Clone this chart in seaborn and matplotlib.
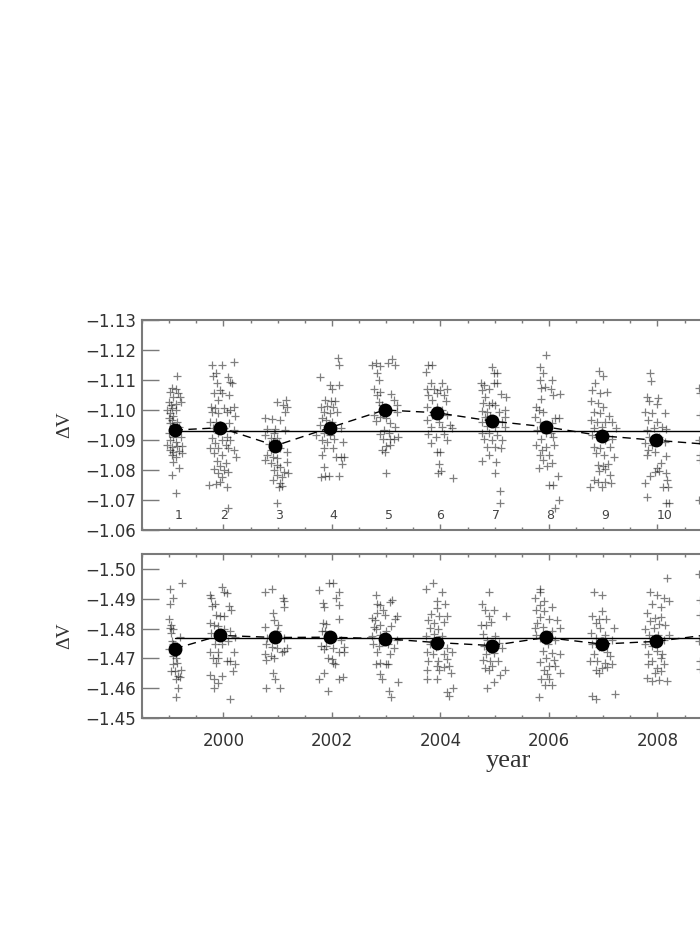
import matplotlib
matplotlib.use("Agg")
import matplotlib.pyplot as plt
import seaborn as sns
import pandas as pd
from matplotlib.ticker import MultipleLocator, FixedLocator

# ---------------- data ----------------
# Upper panel: individual measurements (year, dV) per observing season
top_c1 = [(1999.15,-1.1113),(1999.05,-1.1072),(1999.12,-1.1069),(1999.01,-1.1061),(1999.16,-1.1056),(1999.08,-1.1044),(1999.20,-1.1042),(1998.99,-1.1028),(1999.22,-1.1028),(1999.04,-1.1017),(1999.13,-1.1019),(1999.05,-1.1006),(1998.96,-1.1000),(1999.12,-1.1000),(1999.02,-1.0989),(1999.08,-1.0980),(1998.99,-1.0972),(1999.05,-1.0967),(1999.15,-1.0961),(1999.01,-1.0956),(1999.08,-1.0947),(1999.18,-1.0942),(1998.99,-1.0922),(1999.08,-1.0911),(1999.21,-1.0911),(1999.02,-1.0900),(1999.12,-1.0894),(1998.97,-1.0883),(1999.05,-1.0878),(1999.15,-1.0880),(1999.24,-1.0880),(1999.01,-1.0867),(1999.08,-1.0861),(1999.18,-1.0864),(1999.24,-1.0856),(1999.05,-1.0850),(1999.13,-1.0844),(1999.08,-1.0828),(1999.18,-1.0806),(1999.05,-1.0783),(1999.12,-1.0722)]
top_c2 = [(1999.79,-1.1150),(1999.98,-1.1150),(2000.20,-1.1161),(1999.87,-1.1122),(1999.81,-1.1113),(2000.08,-1.1111),(2000.12,-1.1094),(1999.88,-1.1089),(2000.16,-1.1089),(1999.94,-1.1067),(1999.98,-1.1058),(1999.83,-1.1056),(2000.10,-1.1050),(1999.91,-1.1033),(1999.77,-1.1011),(1999.85,-1.1006),(2000.01,-1.1006),(2000.13,-1.1000),(2000.20,-1.1011),(1999.79,-1.0994),(1999.91,-1.0989),(2000.07,-1.0994),(2000.22,-1.0980),(1999.75,-1.0961),(1999.87,-1.0961),(1999.94,-1.0950),(2000.10,-1.0958),(1999.81,-1.0939),(2000.01,-1.0939),(2000.19,-1.0933),(1999.90,-1.0922),(2000.06,-1.0911),(1999.79,-1.0906),(1999.98,-1.0900),(2000.13,-1.0900),(1999.85,-1.0889),(2000.04,-1.0883),(1999.76,-1.0872),(1999.91,-1.0872),(2000.08,-1.0872),(2000.19,-1.0867),(1999.83,-1.0856),(1999.98,-1.0850),(2000.24,-1.0842),(1999.88,-1.0831),(2000.04,-1.0824),(1999.94,-1.0813),(1999.82,-1.0802),(2000.01,-1.0800),(1999.91,-1.0791),(2000.08,-1.0794),(1999.98,-1.0778),(1999.93,-1.0761),(1999.73,-1.0750),(1999.87,-1.0753),(2000.07,-1.0744),(2000.08,-1.0672)]
top_c3 = [(2001.16,-1.1033),(2000.99,-1.1028),(2001.10,-1.1017),(2001.17,-1.1011),(2001.14,-1.0994),(2000.76,-1.0972),(2000.90,-1.0969),(2001.04,-1.0967),(2000.80,-1.0936),(2000.96,-1.0936),(2001.14,-1.0933),(2000.93,-1.0922),(2000.77,-1.0917),(2000.87,-1.0906),(2000.99,-1.0906),(2000.92,-1.0894),(2000.84,-1.0887),(2001.02,-1.0889),(2000.94,-1.0878),(2000.88,-1.0867),(2001.05,-1.0872),(2001.17,-1.0861),(2000.80,-1.0850),(2000.92,-1.0844),(2000.99,-1.0839),(2000.77,-1.0833),(2000.88,-1.0822),(2000.98,-1.0817),(2001.05,-1.0811),(2000.93,-1.0800),(2001.17,-1.0828),(2001.11,-1.0794),(2001.20,-1.0791),(2000.99,-1.0783),(2001.08,-1.0776),(2000.92,-1.0767),(2001.05,-1.0756),(2001.02,-1.0744),(2001.08,-1.0747),(2000.99,-1.0689)]
top_c4 = [(2002.11,-1.1172),(2002.13,-1.1150),(2001.78,-1.1111),(2001.96,-1.1083),(2002.00,-1.1069),(2002.13,-1.1083),(2001.88,-1.1033),(2001.98,-1.1031),(2002.05,-1.1031),(2001.80,-1.1011),(2001.91,-1.1013),(2002.02,-1.1011),(2001.85,-1.0994),(2001.96,-1.0989),(2002.10,-1.0994),(2001.82,-1.0972),(2001.90,-1.0967),(2002.00,-1.0961),(2001.79,-1.0950),(2002.16,-1.0939),(2001.71,-1.0917),(2001.86,-1.0922),(2001.97,-1.0917),(2001.82,-1.0900),(2001.91,-1.0894),(2002.03,-1.0902),(2002.21,-1.0894),(2001.85,-1.0872),(2002.02,-1.0872),(2001.82,-1.0850),(2002.08,-1.0842),(2002.17,-1.0842),(2002.22,-1.0842),(2002.19,-1.0820),(2001.86,-1.0811),(2001.80,-1.0778),(2001.88,-1.0780),(2001.94,-1.0780),(2002.14,-1.0780)]
top_c5 = [(2002.74,-1.1150),(2002.82,-1.1158),(2002.89,-1.1147),(2003.03,-1.1158),(2003.11,-1.1169),(2003.17,-1.1150),(2002.84,-1.1122),(2002.86,-1.1100),(2002.78,-1.1069),(2002.89,-1.1061),(2002.83,-1.1050),(2003.09,-1.1053),(2002.86,-1.1028),(2003.15,-1.1033),(2003.20,-1.1017),(2002.92,-1.1017),(2002.77,-1.0983),(2002.89,-1.0978),(2003.00,-1.0972),(2003.20,-1.0994),(2002.82,-1.0964),(2003.07,-1.0956),(2003.17,-1.0942),(2002.96,-1.0933),(2002.89,-1.0920),(2003.05,-1.0922),(2003.21,-1.0911),(2002.94,-1.0902),(2003.07,-1.0902),(2003.15,-1.0902),(2002.99,-1.0880),(2003.08,-1.0883),(2002.92,-1.0867),(2002.97,-1.0861),(2003.00,-1.0791)]
top_c6 = [(2003.78,-1.1150),(2003.85,-1.1150),(2003.74,-1.1128),(2003.82,-1.1089),(2004.03,-1.1089),(2003.75,-1.1069),(2003.88,-1.1069),(2004.00,-1.1067),(2004.12,-1.1069),(2003.78,-1.1050),(2003.94,-1.1056),(2004.06,-1.1050),(2003.85,-1.1033),(2004.11,-1.1031),(2003.75,-1.1011),(2003.93,-1.1011),(2004.03,-1.1000),(2003.85,-1.0983),(2004.12,-1.0983),(2003.75,-1.0967),(2003.97,-1.0961),(2004.18,-1.0950),(2003.82,-1.0942),(2004.03,-1.0942),(2004.22,-1.0939),(2003.77,-1.0920),(2003.91,-1.0911),(2004.06,-1.0920),(2003.83,-1.0889),(2004.12,-1.0900),(2003.94,-1.0861),(2003.99,-1.0861),(2003.97,-1.0820),(2003.95,-1.0791),(2004.01,-1.0798),(2004.23,-1.0772)]
top_c7 = [(2004.96,-1.1142),(2004.98,-1.1122),(2005.04,-1.1122),(2004.98,-1.1091),(2005.04,-1.1091),(2004.74,-1.1091),(2004.80,-1.1083),(2004.76,-1.1067),(2004.89,-1.1069),(2005.11,-1.1053),(2005.21,-1.1042),(2004.83,-1.1044),(2004.95,-1.1024),(2004.78,-1.1022),(2004.90,-1.1017),(2005.01,-1.1017),(2005.19,-1.1000),(2004.76,-1.0998),(2004.86,-1.0994),(2005.08,-1.0994),(2004.83,-1.0978),(2004.92,-1.0980),(2005.20,-1.0978),(2004.77,-1.0961),(2005.14,-1.0961),(2004.86,-1.0947),(2005.01,-1.0944),(2005.20,-1.0942),(2004.77,-1.0922),(2004.90,-1.0922),(2005.04,-1.0917),(2004.80,-1.0902),(2004.95,-1.0900),(2005.14,-1.0900),(2004.86,-1.0878),(2005.01,-1.0876),(2005.12,-1.0872),(2004.90,-1.0850),(2004.76,-1.0831),(2005.03,-1.0828),(2005.00,-1.0791),(2005.09,-1.0731),(2005.09,-1.0691)]
top_c8 = [(2005.94,-1.1183),(2005.84,-1.1142),(2005.90,-1.1122),(2005.83,-1.1100),(2005.86,-1.1072),(2006.06,-1.1100),(2005.92,-1.1078),(2006.03,-1.1069),(2006.07,-1.1050),(2006.21,-1.1053),(2005.86,-1.1036),(2005.76,-1.1011),(2005.81,-1.1000),(2005.89,-1.0994),(2005.75,-1.0978),(2006.11,-1.0972),(2006.18,-1.0972),(2005.84,-1.0961),(2006.06,-1.0958),(2005.78,-1.0933),(2005.94,-1.0922),(2006.03,-1.0924),(2005.86,-1.0902),(2006.07,-1.0909),(2005.76,-1.0883),(2005.94,-1.0876),(2006.09,-1.0883),(2005.87,-1.0867),(2005.83,-1.0850),(2006.00,-1.0850),(2005.89,-1.0833),(2006.05,-1.0824),(2005.81,-1.0806),(2005.97,-1.0813),(2006.17,-1.0780),(2006.00,-1.0750),(2006.07,-1.0750),(2006.19,-1.0700),(2006.11,-1.0672)]
top_c9 = [(2006.92,-1.1131),(2006.99,-1.1113),(2006.85,-1.1091),(2006.80,-1.1067),(2006.95,-1.1056),(2007.07,-1.1061),(2006.77,-1.1031),(2006.91,-1.1022),(2006.99,-1.1011),(2006.83,-1.0994),(2006.95,-1.0991),(2007.10,-1.0980),(2006.78,-1.0967),(2006.89,-1.0961),(2007.03,-1.0961),(2007.17,-1.0961),(2006.83,-1.0939),(2006.97,-1.0942),(2007.23,-1.0939),(2006.80,-1.0917),(2006.89,-1.0911),(2007.04,-1.0900),(2007.17,-1.0902),(2006.83,-1.0876),(2006.95,-1.0872),(2007.13,-1.0876),(2006.87,-1.0856),(2007.01,-1.0850),(2007.20,-1.0842),(2006.91,-1.0817),(2006.99,-1.0813),(2007.09,-1.0820),(2006.93,-1.0798),(2007.04,-1.0802),(2007.12,-1.0783),(2006.83,-1.0767),(2006.91,-1.0761),(2007.03,-1.0761),(2007.15,-1.0756),(2006.75,-1.0742),(2006.98,-1.0744)]
top_c10 = [(2007.87,-1.1122),(2007.89,-1.1098),(2007.81,-1.1042),(2008.01,-1.1039),(2007.84,-1.1031),(2007.99,-1.1020),(2007.78,-1.0994),(2007.90,-1.0991),(2008.14,-1.0991),(2007.83,-1.0967),(2007.99,-1.0961),(2008.09,-1.0942),(2007.81,-1.0933),(2007.93,-1.0939),(2008.15,-1.0936),(2007.84,-1.0911),(2008.03,-1.0911),(2007.78,-1.0889),(2007.90,-1.0883),(2008.14,-1.0894),(2007.83,-1.0867),(2007.96,-1.0861),(2007.81,-1.0850),(2008.15,-1.0847),(2008.07,-1.0822),(2007.99,-1.0806),(2007.95,-1.0794),(2008.03,-1.0798),(2007.87,-1.0780),(2008.15,-1.0789),(2007.78,-1.0756),(2008.18,-1.0767),(2008.10,-1.0744),(2008.20,-1.0744),(2007.81,-1.0711),(2008.15,-1.0691),(2008.22,-1.0689)]
top_c11 = [(2008.77,-1.1072),(2008.79,-1.1056),(2008.78,-1.0983),(2008.77,-1.0900),(2008.79,-1.0850),(2008.78,-1.0833),(2008.77,-1.0700)]

# Lower panel
bot_c1 = [(1999.01,-1.4933),(1999.24,-1.4952),(1999.08,-1.4902),(1999.01,-1.4882),(1998.99,-1.4833),(1999.04,-1.4813),(1999.01,-1.4802),(1999.07,-1.4797),(1999.20,-1.4771),(1999.04,-1.4786),(1999.05,-1.4758),(1999.08,-1.4747),(1999.15,-1.4741),(1998.99,-1.4730),(1999.12,-1.4719),(1999.08,-1.4708),(1999.13,-1.4702),(1999.07,-1.4682),(1999.15,-1.4686),(1999.04,-1.4656),(1999.10,-1.4656),(1999.21,-1.4660),(1999.16,-1.4641),(1999.20,-1.4636),(1999.12,-1.4630),(1999.16,-1.4602),(1999.12,-1.4571)]
bot_c2 = [(1999.98,-1.4941),(2000.01,-1.4924),(2000.06,-1.4919),(1999.75,-1.4911),(1999.77,-1.4902),(1999.85,-1.4882),(1999.79,-1.4874),(2000.10,-1.4874),(2000.14,-1.4863),(1999.87,-1.4844),(1999.94,-1.4841),(2000.01,-1.4841),(1999.76,-1.4819),(1999.83,-1.4813),(1999.90,-1.4808),(2000.02,-1.4800),(2000.13,-1.4793),(2000.22,-1.4771),(1999.77,-1.4786),(2000.08,-1.4758),(1999.85,-1.4747),(1999.98,-1.4749),(1999.76,-1.4722),(1999.90,-1.4722),(2000.20,-1.4722),(1999.81,-1.4702),(1999.91,-1.4700),(2000.06,-1.4691),(2000.12,-1.4691),(1999.87,-1.4686),(2000.22,-1.4680),(2000.18,-1.4656),(1999.76,-1.4644),(1999.98,-1.4641),(1999.83,-1.4630),(1999.90,-1.4619),(1999.82,-1.4602),(2000.13,-1.4563)]
bot_c3 = [(2000.76,-1.4922),(2000.90,-1.4933),(2001.10,-1.4902),(2001.12,-1.4891),(2001.11,-1.4871),(2000.92,-1.4852),(2000.94,-1.4830),(2001.00,-1.4811),(2000.77,-1.4804),(2000.99,-1.4791),(2000.80,-1.4767),(2001.12,-1.4767),(2000.79,-1.4747),(2000.90,-1.4738),(2000.98,-1.4736),(2001.17,-1.4736),(2001.08,-1.4722),(2000.76,-1.4713),(2000.87,-1.4708),(2001.12,-1.4724),(2000.79,-1.4693),(2000.94,-1.4702),(2000.92,-1.4652),(2000.96,-1.4630),(2000.79,-1.4600),(2001.04,-1.4600)]
bot_c4 = [(2001.76,-1.4930),(2001.94,-1.4952),(2002.02,-1.4952),(2002.13,-1.4922),(2002.08,-1.4902),(2002.13,-1.4880),(2001.84,-1.4886),(2001.85,-1.4871),(2002.13,-1.4833),(2001.84,-1.4819),(2001.90,-1.4816),(2001.82,-1.4793),(2001.88,-1.4793),(2001.80,-1.4741),(2001.90,-1.4741),(2002.02,-1.4736),(2002.16,-1.4760),(2002.22,-1.4738),(2002.14,-1.4722),(2002.23,-1.4722),(2001.85,-1.4730),(2001.92,-1.4702),(2002.00,-1.4697),(2002.02,-1.4686),(2002.06,-1.4680),(2001.86,-1.4652),(2001.76,-1.4630),(2002.14,-1.4630),(2002.21,-1.4638),(2001.92,-1.4591)]
bot_c5 = [(2002.82,-1.4911),(2002.84,-1.4882),(2002.89,-1.4880),(2003.07,-1.4889),(2003.11,-1.4897),(2002.94,-1.4863),(2002.84,-1.4852),(2002.97,-1.4847),(2002.74,-1.4836),(2002.80,-1.4830),(2003.20,-1.4841),(2003.17,-1.4833),(2002.89,-1.4813),(2003.09,-1.4808),(2002.78,-1.4804),(2002.82,-1.4797),(2002.99,-1.4793),(2002.74,-1.4774),(2002.89,-1.4778),(2003.20,-1.4763),(2002.76,-1.4747),(2002.86,-1.4741),(2003.03,-1.4747),(2003.15,-1.4736),(2002.84,-1.4722),(2003.08,-1.4713),(2002.89,-1.4686),(2002.82,-1.4680),(2002.99,-1.4682),(2003.03,-1.4680),(2002.89,-1.4647),(2002.92,-1.4630),(2003.21,-1.4622),(2003.05,-1.4591),(2003.09,-1.4571)]
bot_c6 = [(2003.74,-1.4933),(2003.87,-1.4952),(2004.03,-1.4922),(2003.94,-1.4893),(2004.09,-1.4882),(2003.93,-1.4869),(2003.83,-1.4849),(2003.97,-1.4841),(2004.12,-1.4841),(2003.78,-1.4830),(2003.88,-1.4819),(2004.06,-1.4822),(2003.80,-1.4802),(2003.95,-1.4797),(2003.74,-1.4774),(2003.88,-1.4782),(2004.03,-1.4774),(2003.80,-1.4747),(2003.91,-1.4738),(2004.12,-1.4736),(2004.22,-1.4722),(2003.75,-1.4722),(2003.87,-1.4716),(2004.06,-1.4713),(2003.78,-1.4691),(2003.95,-1.4691),(2004.12,-1.4697),(2003.93,-1.4674),(2004.07,-1.4671),(2004.15,-1.4674),(2003.75,-1.4660),(2003.97,-1.4660),(2004.20,-1.4652),(2003.75,-1.4630),(2003.93,-1.4630),(2004.23,-1.4602),(2004.12,-1.4586),(2004.15,-1.4574)]
bot_c7 = [(2004.90,-1.4922),(2004.76,-1.4882),(2004.82,-1.4863),(2004.98,-1.4863),(2004.90,-1.4841),(2005.21,-1.4841),(2004.74,-1.4813),(2004.84,-1.4811),(2004.94,-1.4822),(2004.78,-1.4782),(2005.01,-1.4774),(2004.86,-1.4763),(2005.08,-1.4752),(2004.80,-1.4741),(2004.90,-1.4730),(2005.14,-1.4736),(2004.84,-1.4713),(2004.98,-1.4719),(2004.78,-1.4693),(2004.92,-1.4691),(2005.06,-1.4691),(2004.82,-1.4669),(2004.95,-1.4674),(2005.20,-1.4660),(2004.89,-1.4660),(2005.09,-1.4644),(2004.98,-1.4622),(2004.86,-1.4600)]
bot_c8 = [(2005.83,-1.4933),(2005.83,-1.4922),(2005.75,-1.4902),(2005.91,-1.4893),(2005.84,-1.4880),(2005.76,-1.4863),(2005.91,-1.4860),(2006.05,-1.4871),(2005.83,-1.4838),(2006.00,-1.4833),(2005.78,-1.4819),(2006.15,-1.4830),(2005.74,-1.4802),(2005.89,-1.4804),(2006.21,-1.4802),(2006.06,-1.4791),(2005.76,-1.4780),(2005.84,-1.4769),(2006.12,-1.4763),(2005.99,-1.4747),(2005.89,-1.4724),(2006.05,-1.4719),(2006.21,-1.4713),(2005.94,-1.4702),(2006.09,-1.4693),(2005.84,-1.4689),(2006.00,-1.4674),(2006.12,-1.4674),(2005.91,-1.4660),(2006.21,-1.4652),(2005.97,-1.4649),(2005.86,-1.4630),(2006.00,-1.4630),(2005.92,-1.4611),(2006.05,-1.4611),(2005.81,-1.4571)]
bot_c9 = [(2006.83,-1.4922),(2006.98,-1.4911),(2006.98,-1.4860),(2006.80,-1.4841),(2006.92,-1.4833),(2007.05,-1.4833),(2006.86,-1.4819),(2007.20,-1.4802),(2006.95,-1.4802),(2006.77,-1.4786),(2007.03,-1.4780),(2006.87,-1.4769),(2007.17,-1.4763),(2006.80,-1.4747),(2006.92,-1.4738),(2007.07,-1.4722),(2006.83,-1.4713),(2007.13,-1.4708),(2006.75,-1.4691),(2006.89,-1.4691),(2007.04,-1.4686),(2007.17,-1.4680),(2006.87,-1.4660),(2006.98,-1.4669),(2007.07,-1.4671),(2006.92,-1.4652),(2006.80,-1.4574),(2006.86,-1.4563),(2007.21,-1.4582)]
bot_c10 = [(2008.18,-1.4971),(2007.87,-1.4924),(2007.99,-1.4911),(2008.12,-1.4902),(2008.21,-1.4893),(2007.90,-1.4882),(2008.06,-1.4871),(2007.81,-1.4852),(2007.95,-1.4836),(2008.07,-1.4838),(2007.87,-1.4824),(2008.03,-1.4816),(2007.78,-1.4800),(2007.93,-1.4802),(2008.14,-1.4813),(2007.84,-1.4780),(2008.01,-1.4780),(2008.12,-1.4760),(2007.78,-1.4747),(2007.90,-1.4741),(2008.21,-1.4780),(2007.99,-1.4724),(2007.83,-1.4713),(2008.09,-1.4716),(2007.90,-1.4691),(2008.06,-1.4700),(2007.83,-1.4680),(2007.99,-1.4669),(2008.12,-1.4680),(2007.96,-1.4652),(2008.06,-1.4656),(2007.81,-1.4633),(2007.90,-1.4624),(2008.03,-1.4627),(2008.18,-1.4624)]
bot_c11 = [(2008.77,-1.4982),(2008.78,-1.4897),(2008.79,-1.4847),(2008.77,-1.4758),(2008.78,-1.4691),(2008.79,-1.4663)]

# seasonal means (big dots, dashed line)
season_years = [1999.10, 1999.94, 2000.96, 2001.96, 2002.97, 2003.93, 2004.95, 2005.94, 2006.97, 2007.98, 2008.97]
season_labels = ["1", "2", "3", "4", "5", "6", "7", "8", "9", "10"]
top_means = [-1.0933, -1.0941, -1.0881, -1.0941, -1.1000, -1.0991, -1.0963, -1.0944, -1.0914, -1.0899, -1.0885]
bot_means = [-1.4732, -1.4777, -1.4770, -1.4771, -1.4766, -1.4753, -1.4743, -1.4770, -1.4748, -1.4757, -1.4780]
top_overall = -1.0931
bot_overall = -1.4769

top_yticks = [-1.13, -1.12, -1.11, -1.10, -1.09, -1.08, -1.07, -1.06]
bot_yticks = [-1.50, -1.49, -1.48, -1.47, -1.46, -1.45]
year_ticks = [2000, 2002, 2004, 2006, 2008]

# ---------------- figure ----------------
sns.set_style("white")
plt.rcParams["font.family"] = ["DejaVu Sans"]

W, H = 700, 950
fig = plt.figure(figsize=(7, 9.5), dpi=100)
left_px, right_px = 142, 874.4
ax1 = fig.add_axes([left_px / W, 1 - 530 / H, (right_px - left_px) / W, 210 / H])
ax2 = fig.add_axes([left_px / W, 1 - 718 / H, (right_px - left_px) / W, 164 / H])

FRAME = "#7a7a7a"
TXT = "#333333"


def draw_panel(ax, clusters, means, overall, yticks, ylim):
    pts = pd.DataFrame([p for c in clusters for p in c], columns=["year", "dv"])
    sns.scatterplot(data=pts, x="year", y="dv", marker="+", color="black",
                    alpha=0.5, s=40, linewidth=0.9, ax=ax, zorder=2, legend=False)
    mdf = pd.DataFrame({"year": season_years, "dv": means})
    sns.lineplot(data=mdf, x="year", y="dv", color="black", linewidth=1.0,
                 linestyle=(0, (6, 4)), sort=False, estimator=None, ax=ax, zorder=3)
    hl = pd.DataFrame({"year": [season_years[0], season_years[-1]], "dv": [overall, overall]})
    sns.lineplot(data=hl, x="year", y="dv", color="black", linewidth=1.0,
                 sort=False, estimator=None, ax=ax, zorder=3)
    sns.scatterplot(data=mdf, x="year", y="dv", color="black", s=100,
                    edgecolor="black", linewidth=0, ax=ax, zorder=4, legend=False)

    ax.set_xlim(1998.5, 2012.0)
    ax.set_ylim(*ylim)
    ax.yaxis.set_major_locator(FixedLocator(yticks))
    ax.set_yticklabels([f"{v:.2f}".replace("-", "\u2212") for v in yticks])
    ax.xaxis.set_major_locator(FixedLocator(year_ticks))
    ax.xaxis.set_minor_locator(MultipleLocator(0.5))
    ax.set_xticklabels([str(y) for y in year_ticks])

    ax.tick_params(axis="y", which="major", direction="in", length=12, width=1.0,
                   color=FRAME, left=True, right=True, labelsize=12,
                   labelcolor=TXT, pad=4)
    ax.tick_params(axis="y", which="minor", left=False, right=False)
    ax.tick_params(axis="x", which="major", direction="in", length=4.5, width=1.0,
                   color=FRAME, top=True, bottom=True, labelsize=12,
                   labelcolor=TXT, pad=10)
    ax.tick_params(axis="x", which="minor", direction="in", length=2.5, width=1.0,
                   color=FRAME, top=True, bottom=True)
    for sp in ax.spines.values():
        sp.set_color(FRAME)
        sp.set_linewidth(1.5)
    ax.set_xlabel("")
    ax.set_ylabel("\u0394V", fontsize=14, family=["Liberation Serif", "DejaVu Serif"], color=TXT)
    ax.yaxis.set_label_coords(-0.094, 0.5)


draw_panel(ax1, [top_c1, top_c2, top_c3, top_c4, top_c5, top_c6, top_c7, top_c8,
                 top_c9, top_c10, top_c11], top_means, top_overall, top_yticks, (-1.06, -1.13))
draw_panel(ax2, [bot_c1, bot_c2, bot_c3, bot_c4, bot_c5, bot_c6, bot_c7, bot_c8,
                 bot_c9, bot_c10, bot_c11], bot_means, bot_overall, bot_yticks, (-1.45, -1.505))

ax1.tick_params(axis="x", labelbottom=False)
for yr, lab in zip(season_years, season_labels):
    ax1.text(yr, -1.0648, lab, ha="left", va="center", fontsize=9, color="#444444")

ax2.set_xlabel("year", fontsize=19, family=["Liberation Serif", "DejaVu Serif"],
               color=TXT, labelpad=0)

fig.savefig("out.png", dpi=100, facecolor="white")
